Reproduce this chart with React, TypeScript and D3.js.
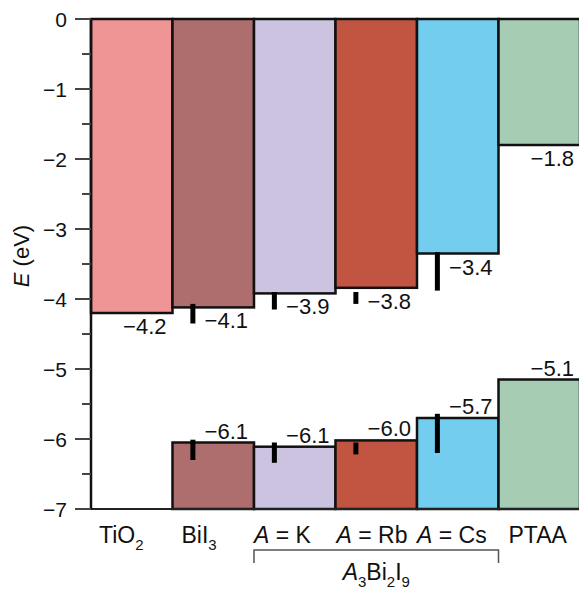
import React from 'react';
import * as d3 from 'd3';

// materials, left to right
const categories = ['TiO2', 'BiI3', 'A = K', 'A = Rb', 'A = Cs', 'PTAA'];
const colors = ['#f09596', '#ae6e6e', '#cbc3df', '#c25442', '#73cdee', '#a6ccb3'];

// conduction band edge (eV) and its printed label
const cbEdge = [-4.2, -4.12, -3.92, -3.84, -3.35, -1.8];
const cbLabels = ['\u22124.2', '\u22124.1', '\u22123.9', '\u22123.8', '\u22123.4', '\u22121.8'];

// valence band edge (eV); TiO2 has none drawn
const vbEdge = [null, -6.05, -6.11, -6.02, -5.7, -5.15];
const vbLabels = [null, '\u22126.1', '\u22126.1', '\u22126.0', '\u22125.7', '\u22125.1'];

// error bar ranges
const cbErrTop = [null, -4.07, -3.9, -3.9, -3.33, null];
const cbErrBot = [null, -4.35, -4.15, -4.07, -3.88, null];
const vbErrTop = [null, -6.01, -6.05, -6.05, -5.64, null];
const vbErrBot = [null, -6.3, -6.34, -6.22, -6.2, null];

const yTicks = [0, -1, -2, -3, -4, -5, -6, -7];
const yMinorTicks = [-0.5, -1.5, -2.5, -3.5, -4.5, -5.5, -6.5];

const W = 579;
const H = 591;
const font = '"Liberation Sans", Arial, Helvetica, sans-serif';
const labelShift = [8, 9, 0, 1, 0, 10];

const CatLabel = ({ name, x, y }: { name: string; x: number; y: number }) => {
  if (name.startsWith('A = ')) {
    return (
      <text x={x} y={y}>
        <tspan fontStyle="italic">A</tspan>
        <tspan>{' = ' + name.slice(4)}</tspan>
      </text>
    );
  }
  const m = name.match(/^(\D+)(\d)$/);
  if (m) {
    return (
      <text x={x} y={y}>
        <tspan>{m[1]}</tspan>
        <tspan fontSize={15} dy={7}>{m[2]}</tspan>
      </text>
    );
  }
  return <text x={x} y={y}>{name}</text>;
};

export default function App() {
  const y = d3.scaleLinear().domain([0, -7]).range([19, 509]);
  const x = d3.scaleBand<string>().domain(categories).range([91, 580]).paddingInner(0);
  const bw = x.bandwidth();

  return (
    <div style={{ position: 'absolute', left: 0, top: 0 }}>
      <svg width={W} height={H} style={{ display: 'block', fontFamily: font }}>
        {/* conduction band bars */}
        {categories.map((c, i) => (
          <rect key={'cb' + c} x={x(c)} y={y(0)} width={bw} height={y(cbEdge[i]) - y(0)}
            fill={colors[i]} stroke="#111" strokeWidth={2.5} />
        ))}
        {/* valence band bars */}
        {categories.map((c, i) => vbEdge[i] == null ? null : (
          <rect key={'vb' + c} x={x(c)} y={y(vbEdge[i] as number)} width={bw}
            height={y(-7) - y(vbEdge[i] as number)}
            fill={colors[i]} stroke="#111" strokeWidth={2.5} />
        ))}
        {/* error bars */}
        {categories.map((c, i) => cbErrTop[i] == null ? null : (
          <g key={'err' + c} fill="#000">
            <rect x={(x(c) as number) + bw * 0.25 - 2.5} y={y(cbErrTop[i] as number)} width={5}
              height={y(cbErrBot[i] as number) - y(cbErrTop[i] as number)} />
            <rect x={(x(c) as number) + bw * 0.25 - 2.5} y={y(vbErrTop[i] as number)} width={5}
              height={y(vbErrBot[i] as number) - y(vbErrTop[i] as number)} />
          </g>
        ))}
        {/* value labels */}
        <g fontSize={22} textAnchor="end" fill="#111">
          {categories.map((c, i) => (
            <text key={'cbl' + c} x={(x(c) as number) + bw - 6} y={y(cbEdge[i]) + 21}>{cbLabels[i]}</text>
          ))}
          {categories.map((c, i) => vbEdge[i] == null ? null : (
            <text key={'vbl' + c} x={(x(c) as number) + bw - 6} y={y(vbEdge[i] as number) - 4}>{vbLabels[i]}</text>
          ))}
        </g>
        {/* axes */}
        <line x1={91} x2={580} y1={y(-7)} y2={y(-7)} stroke="#222" strokeWidth={2} />
        <line x1={91} x2={91} y1={y(0) - 1} y2={y(-7) + 1} stroke="#111" strokeWidth={2.5} />
        {yTicks.map(t => (
          <g key={'t' + t}>
            <line x1={75} x2={91} y1={y(t)} y2={y(t)} stroke="#444" strokeWidth={2} />
            <text x={67} y={y(t) + 7.5} fontSize={21} textAnchor="end" fill="#111">
              {t === 0 ? '0' : '\u2212' + Math.abs(t)}
            </text>
          </g>
        ))}
        {yMinorTicks.map(t => (
          <line key={'m' + t} x1={82} x2={91} y1={y(t)} y2={y(t)} stroke="#444" strokeWidth={2} />
        ))}
        <text transform={`translate(29,256) rotate(-90)`} textAnchor="middle" fontSize={22} fill="#111">
          <tspan fontStyle="italic">E</tspan>
          <tspan>{' (eV)'}</tspan>
        </text>
        {/* category labels */}
        <g fontSize={23} fill="#111">
          {categories.map((c, i) => (
            <CatLabel key={'cl' + c} name={c} x={(x(c) as number) + labelShift[i]} y={543} />
          ))}
        </g>
        {/* bracket for A3Bi2I9 */}
        <path d={`M${x('A = K')},563V550H${(x('A = Cs') as number) + bw}V563`}
          fill="none" stroke="#555" strokeWidth={1.5} />
        <text x={((x('A = K') as number) + (x('A = Cs') as number) + bw) / 2} y={580}
          textAnchor="middle" fontSize={23} fill="#111">
          <tspan fontStyle="italic">A</tspan>
          <tspan fontSize={15} dy={7}>3</tspan>
          <tspan dy={-7}>Bi</tspan>
          <tspan fontSize={15} dy={7}>2</tspan>
          <tspan dy={-7}>I</tspan>
          <tspan fontSize={15} dy={7}>9</tspan>
        </text>
      </svg>
    </div>
  );
}
